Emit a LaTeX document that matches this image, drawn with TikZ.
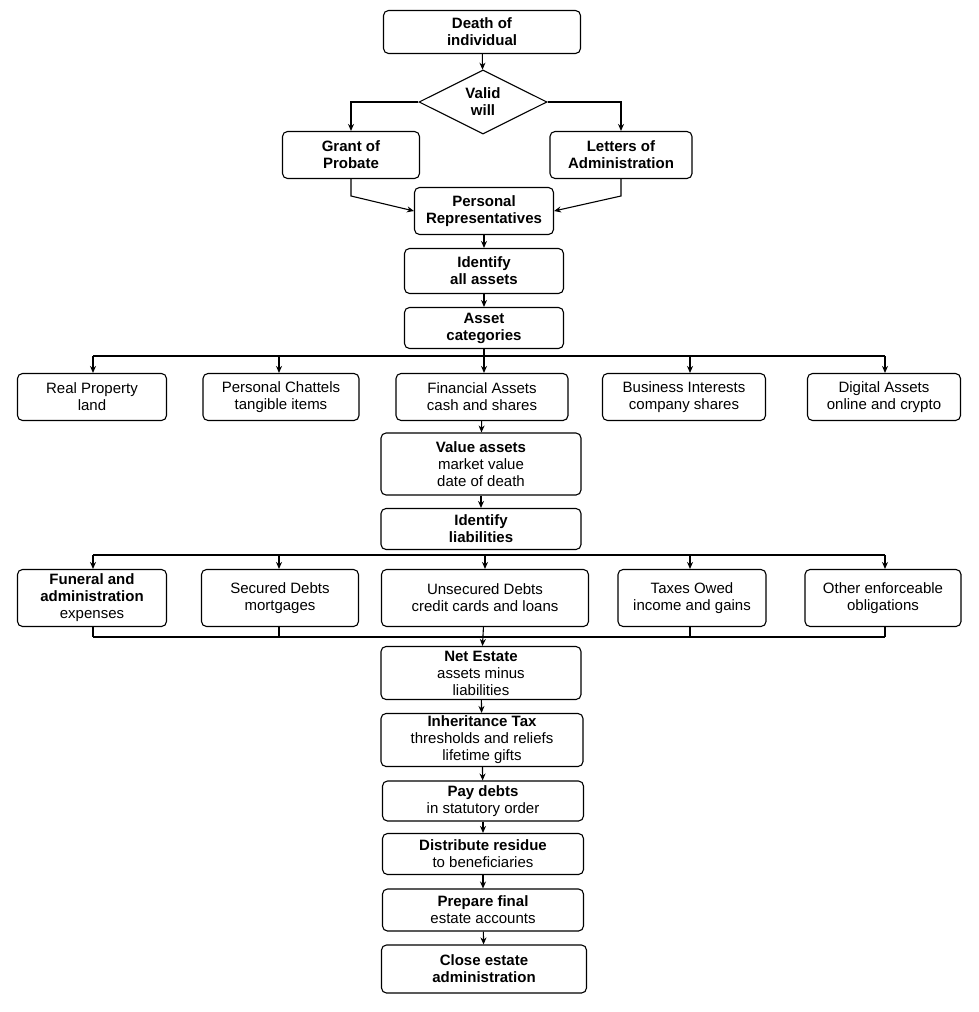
\documentclass[tikz,border=0pt]{standalone}
\usepackage{fontspec}
\setmainfont{Liberation Sans}
\usetikzlibrary{shapes.geometric,arrows.meta}
\begin{document}
\begin{tikzpicture}[x=1pt,y=-1pt,
 box/.style={draw,rounded corners=5pt,line width=1.1pt,align=center,inner sep=0pt,font=\fontsize{15}{17}\selectfont},
 arr/.style={-{Stealth[length=7pt,width=6pt]},line width=1.1pt},
 ln/.style={line width=1.1pt}]
\useasboundingbox (0,0) rectangle (978,1012);
\newcommand{\bx}[6]{\node[box,minimum width=#4pt,minimum height=#5pt] (#1) at (#2,#3) {#6};}
\bx{death}{482}{32}{197}{43}{\textbf{Death of}\\\textbf{individual}}
\node[draw,diamond,aspect=2,line width=1.1pt,minimum width=128pt,minimum height=64pt,inner sep=0pt,align=center,font=\fontsize{15}{17}\selectfont] (will) at (483,102) {\textbf{Valid}\\\textbf{will}};
\bx{grant}{351}{155}{137}{47}{\textbf{Grant of}\\\textbf{Probate}}
\bx{letters}{621}{155}{142}{47}{\textbf{Letters of}\\\textbf{Administration}}
\bx{pr}{484}{211}{139}{47}{\textbf{Personal}\\\textbf{Representatives}}
\bx{ida}{484}{271}{159}{45}{\textbf{Identify}\\\textbf{all assets}}
\bx{cat}{484}{328}{159}{41}{\textbf{Asset}\\\textbf{categories}}
\bx{a1}{92}{397}{149}{47}{Real Property\\land}
\bx{a2}{281}{397}{156}{47}{Personal Chattels\\tangible items}
\bx{a3}{482}{397}{172}{47}{Financial Assets\\cash and shares}
\bx{a4}{684}{397}{163}{47}{Business Interests\\company shares}
\bx{a5}{884}{397}{153}{47}{Digital Assets\\online and crypto}
\bx{val}{481}{464}{200}{62}{\textbf{Value assets}\\market value\\date of death}
\bx{idl}{481}{529}{200}{41}{\textbf{Identify}\\\textbf{liabilities}}
\bx{l1}{92}{598}{149}{57}{\textbf{Funeral and}\\\textbf{administration}\\expenses}
\bx{l2}{280}{598}{157}{57}{Secured Debts\\mortgages}
\bx{l3}{485}{598}{207}{57}{Unsecured Debts\\credit cards and loans}
\bx{l4}{692}{598}{148}{57}{Taxes Owed\\income and gains}
\bx{l5}{883}{598}{156}{57}{Other enforceable\\obligations}
\bx{net}{481}{673}{200}{53}{\textbf{Net Estate}\\assets minus\\liabilities}
\bx{iht}{482}{740}{202}{53}{\textbf{Inheritance Tax}\\thresholds and reliefs\\lifetime gifts}
\bx{pay}{483}{801}{201}{40}{\textbf{Pay debts}\\in statutory order}
\bx{dist}{483}{854}{201}{41}{\textbf{Distribute residue}\\to beneficiaries}
\bx{prep}{483}{910}{201}{42}{\textbf{Prepare final}\\estate accounts}
\bx{close}{484}{969}{205}{48}{\textbf{Close estate}\\\textbf{administration}}
\draw[arr] (death) -- (will);
\draw[arr] (will.west) -| (grant.north);
\draw[arr] (will.east) -| (letters.north);
\draw[arr] (grant.south) -- (351,196) -- (pr.west);
\draw[arr] (letters.south) -- (621,196) -- (pr.east);
\draw[arr] (pr) -- (ida);
\draw[arr] (ida) -- (cat);
\draw[ln] (cat.south) -- (484,356);
\draw[ln] (93,356) -- (885,356);
\foreach \n/\x in {a1/93,a2/279,a3/484,a4/690,a5/885} \draw[arr] (\x,356) -- (\n.north -| \x,0);
\draw[arr] (a3) -- (val);
\draw[arr] (val) -- (idl);
\draw[ln] (93,555) -- (885,555);
\foreach \n/\x in {l1/93,l2/279,l3/485,l4/690,l5/885} \draw[arr] (\x,555) -- (\n.north -| \x,0);
\foreach \n/\x in {l1/93,l2/279,l4/690,l5/885} \draw[ln] (\n.south -| \x,0) -- (\x,637);
\draw[ln] (93,637) -- (885,637);
\draw[arr] (l3) -- (net);
\draw[arr] (net) -- (iht);
\draw[arr] (iht) -- (pay);
\draw[arr] (pay) -- (dist);
\draw[arr] (dist) -- (prep);
\draw[arr] (prep) -- (close);
\end{tikzpicture}
\end{document}
